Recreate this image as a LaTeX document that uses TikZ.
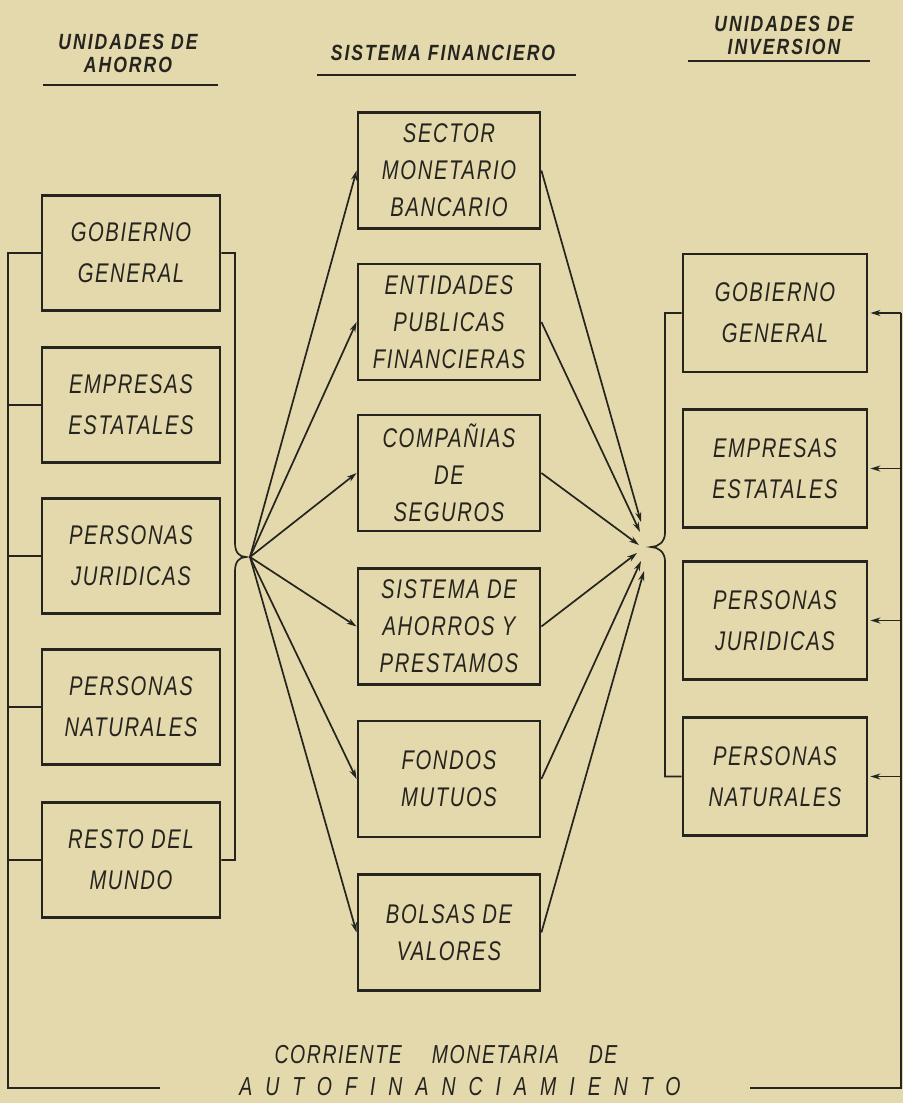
\documentclass[tikz,border=0pt]{standalone}
\usepackage{fontspec}
\usetikzlibrary{arrows.meta}
\newfontfamily\boxfont[FakeStretch=0.75,LetterSpace=6]{Liberation Sans}
\newfontfamily\hdrfont[FakeStretch=0.8,LetterSpace=9]{Liberation Sans}
\newfontfamily\widefont[FakeStretch=0.75,LetterSpace=50]{Liberation Sans}
\definecolor{paper}{RGB}{227,217,173}
\definecolor{ink}{RGB}{38,36,30}
\begin{document}
\begin{tikzpicture}[x=1pt,y=-1pt,
  boxbase/.style={draw=ink,line width=2.8pt,inner sep=0pt,align=center,text=ink},
  lbox/.style={boxbase,minimum width=178pt,minimum height=115pt,font=\boxfont\itshape\fontsize{27}{41}\selectfont},
  mbox/.style={boxbase,minimum width=182pt,minimum height=116pt,font=\boxfont\itshape\fontsize{27}{37}\selectfont},
  rbox/.style={boxbase,minimum width=184pt,minimum height=118pt,font=\boxfont\itshape\fontsize{27}{41}\selectfont},
  hdr/.style={align=center,inner sep=0pt,text=ink,font=\hdrfont\bfseries\itshape\fontsize{22}{23}\selectfont},
  btxt/.style={inner sep=0pt,text=ink,font=\boxfont\itshape\fontsize{26}{30}\selectfont},
  wtxt/.style={inner sep=0pt,text=ink,font=\widefont\itshape\fontsize{26}{30}\selectfont},
  conn/.style={draw=ink,line width=1.7pt},
  uline/.style={draw=ink,line width=1.9pt},
  arr/.style={conn,-{Stealth[length=10pt,width=6pt]}}]
\useasboundingbox (0,0) rectangle (903,1103);
\fill[paper] (0,0) rectangle (903,1103);

% headers
\node[hdr] (h1) at (128,53) {UNIDADES DE\\AHORRO};
\node[hdr] (h2) at (443,53) {SISTEMA FINANCIERO};
\node[hdr] (h3) at (784,35) {UNIDADES DE\\INVERSION};
\coordinate (u1a) at (43,85);  \coordinate (u1b) at (218,85);
\coordinate (u2a) at (317,75); \coordinate (u2b) at (576,75);
\coordinate (u3a) at (688,61); \coordinate (u3b) at (870,61);
\draw[uline] (u1a) -- (u1b);
\draw[uline] (u2a) -- (u2b);
\draw[uline] (u3a) -- (u3b);

% left boxes
\node[lbox] (l1) at (131,253) {GOBIERNO\\GENERAL};
\node[lbox] (l2) at (131,405) {EMPRESAS\\ESTATALES};
\node[lbox] (l3) at (131,556) {PERSONAS\\JURIDICAS};
\node[lbox] (l4) at (131,707) {PERSONAS\\NATURALES};
\node[lbox] (l5) at (131,860) {RESTO DEL\\MUNDO};

% middle boxes
\node[mbox] (m1) at (449,170.5) {SECTOR\\MONETARIO\\BANCARIO};
\node[mbox] (m2) at (449,322) {ENTIDADES\\PUBLICAS\\FINANCIERAS};
\node[mbox] (m3) at (449,473) {COMPAÑIAS\\DE\\SEGUROS};
\node[mbox] (m4) at (449,626.5) {SISTEMA DE\\AHORROS Y\\PRESTAMOS};
\node[mbox] (m5) at (449,779) {FONDOS\\MUTUOS};
\node[mbox] (m6) at (449,932.5) {BOLSAS DE\\VALORES};

% right boxes
\node[rbox] (r1) at (775,313) {GOBIERNO\\GENERAL};
\node[rbox] (r2) at (775,468.5) {EMPRESAS\\ESTATALES};
\node[rbox] (r3) at (775,620.5) {PERSONAS\\JURIDICAS};
\node[rbox] (r4) at (775,776.5) {PERSONAS\\NATURALES};

% bottom text
\node[btxt] (b1) at (446,1055) {CORRIENTE\hspace{30pt}MONETARIA\hspace{30pt}DE};
\node[wtxt] (b2) at (460,1087) {AUTOFINANCIAMIENTO};

% coordinates
\coordinate (lx) at (8,0);
\coordinate (lbx) at (235,0);
\coordinate (rbx) at (665,0);
\coordinate (rx) at (901,0);
\coordinate (bl) at (8,1088);
\coordinate (blend) at (160,1088);
\coordinate (br) at (901,1088);
\coordinate (brend) at (750,1088);
\coordinate (hubL) at (250,557);
\coordinate (e1) at (641,522);
\coordinate (e2) at (640,532);
\coordinate (e3) at (639,545);
\coordinate (e4) at (637,553);
\coordinate (e5) at (641,561);
\coordinate (e6) at (644,571);

% left outer bracket and bottom line
\draw[conn] (l1.west) -- (l1.west -| lx) -- (bl) -- (blend);
\foreach \n in {l2,l3,l4,l5} \draw[conn] (\n.west) -- (\n.west -| lx);

% left brace
\draw[conn] (l1.east) -- (l1.east -| lbx) -- (235,543)
  .. controls (235,552) and (239,557) .. (246,557)
  .. controls (239,557) and (235,562) .. (235,571)
  -- (l5.east -| lbx) -- (l5.east);

% arrows from left hub
\foreach \n in {m1,m2,m3,m4,m5,m6} \draw[arr] (hubL) -- (\n.west);

% arrows to right hub
\draw[arr] (m1.east) -- (e1);
\draw[arr] (m2.east) -- (e2);
\draw[arr] (m3.east) -- (e3);
\draw[arr] (m4.east) -- (e4);
\draw[arr] (m5.east) -- (e5);
\draw[arr] (m6.east) -- (e6);

% right brace
\draw[conn] (r1.west) -- (r1.west -| rbx) -- (665,533)
  .. controls (665,542) and (658,547) .. (651,547)
  .. controls (658,547) and (665,552) .. (665,561)
  -- (r4.west -| rbx) -- (r4.west);

% right outer line and arrows
\draw[conn] (r1.east -| rx) -- (br) -- (brend);
\foreach \n in {r1,r2,r3,r4} \draw[arr,shorten >=2pt] (\n.east -| rx) -- (\n.east);
\end{tikzpicture}
\end{document}
